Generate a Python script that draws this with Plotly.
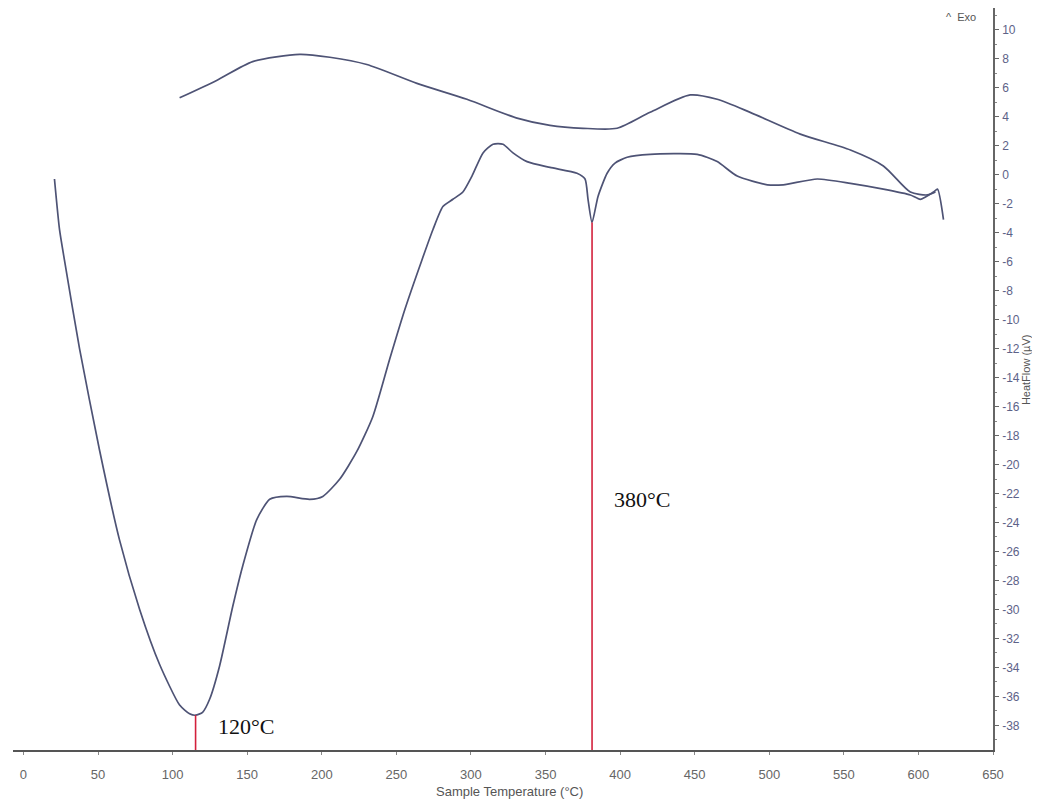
import plotly.graph_objects as go

# ---- data ----
heat_temp = [20.8, 24.2, 27.5, 37.6, 51.0, 64.4, 77.9, 91.3, 104.7, 111.4, 115.4, 120.1,
             124.8, 131.5, 140.3, 147.0, 156.4, 165.1, 176.5, 191.9, 200.7, 212.1, 223.5,
             234.2, 245.6, 255.7, 267.1, 274.5, 281.2, 287.9, 294.6, 300.7, 308.1, 314.8,
             321.5, 328.2, 337.6, 353.0, 371.1, 376.5, 378.5, 381.2, 385.2, 391.3, 396.6,
             404.7, 420.1, 451.7, 465.1, 478.5, 498.7, 509.4, 532.2, 554.4, 576.5, 594.6,
             601.3, 610.1, 612.8, 616.8]
heat_flow = [-0.3, -3.8, -5.9, -12.0, -19.0, -25.2, -30.0, -33.8, -36.6, -37.2, -37.3, -37.1,
             -36.2, -33.9, -29.8, -27.0, -23.8, -22.4, -22.2, -22.4, -22.2, -21.0, -19.1,
             -16.7, -12.7, -9.3, -5.9, -3.8, -2.2, -1.7, -1.2, -0.1, 1.5, 2.1,
             2.1, 1.5, 0.9, 0.5, 0.1, -0.3, -1.7, -3.3, -1.5, 0.1, 0.8,
             1.2, 1.4, 1.4, 0.9, -0.1, -0.7, -0.7, -0.3, -0.6, -1.0, -1.4,
             -1.7, -1.2, -1.0, -3.1]

cool_temp = [104.7, 129.5, 153.7, 185.2, 205.4, 230.2, 263.8, 297.3, 330.9, 353.0, 375.2,
             398.0, 420.1, 447.0, 465.1, 487.2, 520.8, 554.4, 576.5, 594.6, 606.0, 611.4]
cool_flow = [5.3, 6.5, 7.8, 8.3, 8.1, 7.6, 6.3, 5.2, 3.9, 3.4, 3.2,
             3.2, 4.3, 5.5, 5.2, 4.3, 2.8, 1.7, 0.6, -1.2, -1.4, -1.2]

peak_temps = [115.4, 381.2]
peak_values = [-37.3, -3.3]
peak_labels = ["120°C", "380°C"]

x_ticks = list(range(0, 651, 50))
y_ticks = list(range(10, -39, -2))
y_tick_text = [str(v).replace("\u2212", "-") for v in y_ticks]

X_RANGE = [-7, 650]
Y_RANGE = [-39.7, 11.5]

CURVE = "#4e5375"
RED = "#d3203c"

fig = go.Figure()
fig.add_trace(go.Scatter(x=cool_temp, y=cool_flow, mode="lines",
                         line=dict(color=CURVE, width=1.7, shape="spline", smoothing=0.7),
                         showlegend=False, hoverinfo="skip"))
fig.add_trace(go.Scatter(x=heat_temp, y=heat_flow, mode="lines",
                         line=dict(color=CURVE, width=1.7, shape="spline", smoothing=0.6),
                         showlegend=False, hoverinfo="skip"))
for t, v in zip(peak_temps, peak_values):
    fig.add_trace(go.Scatter(x=[t, t], y=[v, Y_RANGE[0]], mode="lines",
                             line=dict(color=RED, width=1.6),
                             showlegend=False, hoverinfo="skip"))

label_y = [-38.1, -22.4]
for t, lab, ly in zip(peak_temps, peak_labels, label_y):
    fig.add_annotation(x=t, y=ly, text=lab, showarrow=False, xanchor="left",
                       xshift=20, yanchor="middle",
                       font=dict(family="Liberation Serif, Times New Roman, serif",
                                 size=22, color="#111111"))

tick_family = "Liberation Sans Narrow, Arial Narrow, Liberation Sans, sans-serif"

fig.update_xaxes(range=X_RANGE, tickvals=x_ticks, ticktext=[str(v) for v in x_ticks],
                 showgrid=False, zeroline=False, showline=True, linecolor="#555555",
                 linewidth=2, ticks="outside", ticklen=3, tickcolor="#888888",
                 tickfont=dict(family=tick_family, size=13, color="#666666"),
                 ticklabelstandoff=8, fixedrange=True)
fig.update_yaxes(range=Y_RANGE, side="right", tickvals=y_ticks, ticktext=y_tick_text,
                 showgrid=False, zeroline=False, showline=True, linecolor="#666666",
                 linewidth=1.5, ticks="outside", ticklen=4, tickcolor="#666666",
                 tickfont=dict(family=tick_family, size=12, color="#5d6288"),
                 ticklabelstandoff=1,
                 minor=dict(ticks="outside", ticklen=2, dtick=1, tickcolor="#888888"),
                 fixedrange=True)

fig.add_annotation(xref="paper", yref="paper", x=0.507, y=-0.0566, xanchor="center",
                   yanchor="middle", text="Sample Temperature (°C)", showarrow=False,
                   font=dict(family=tick_family, size=13, color="#555555"))
fig.add_annotation(xref="paper", yref="paper", x=1.0337, y=0.512, xanchor="center",
                   yanchor="middle", text="HeatFlow (µV)", showarrow=False, textangle=-90,
                   font=dict(family=tick_family, size=11, color="#555555"))
fig.add_annotation(xref="paper", yref="paper", x=0.985, y=0.988, xanchor="right",
                   yanchor="middle", text="^  Exo", showarrow=False,
                   font=dict(family=tick_family, size=11, color="#555555"))

fig.update_layout(width=1024, height=791, plot_bgcolor="white", paper_bgcolor="white",
                  margin=dict(l=5, r=39, t=0, b=49), showlegend=False)

fig.write_html("out.html")
